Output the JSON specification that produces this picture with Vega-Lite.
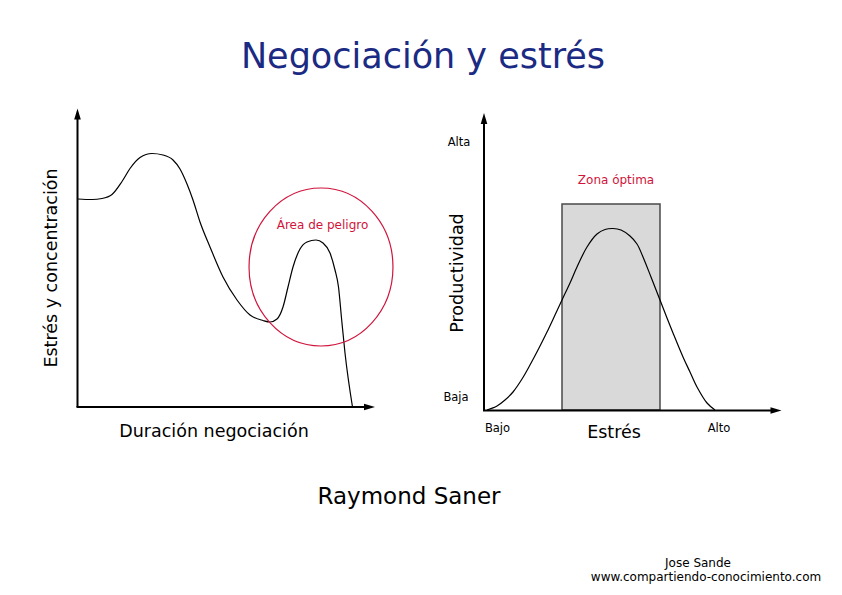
{
  "$schema": "https://vega.github.io/schema/vega-lite/v6.json",
  "description": "Negociación y estrés: stress over the course of a negotiation and the stress/productivity curve (Raymond Saner).",
  "width": 842,
  "height": 595,
  "padding": 0,
  "autosize": {"type": "fit", "contains": "padding"},
  "background": "white",
  "config": {
    "view": {"stroke": null},
    "text": {"font": "DejaVu Sans"}
  },
  "datasets": {
    "zone": [
      {"x": 562, "x2": 660, "y": 204, "y2": 410}
    ],
    "axes": [
      {"panel": "left", "dir": "up", "x": 77.5, "y": 407, "x2": 77.5, "y2": 116},
      {"panel": "left", "dir": "right", "x": 76.5, "y": 407, "x2": 368, "y2": 407},
      {"panel": "right", "dir": "up", "x": 484, "y": 410.5, "x2": 484, "y2": 121},
      {"panel": "right", "dir": "right", "x": 483, "y": 410.5, "x2": 774, "y2": 410.5}
    ],
    "arrows": [
      {"panel": "left", "dir": "up", "x": 77.5, "y": 114},
      {"panel": "left", "dir": "right", "x": 369.5, "y": 407},
      {"panel": "right", "dir": "up", "x": 484, "y": 118.5},
      {"panel": "right", "dir": "right", "x": 776, "y": 410.5}
    ],
    "stress": [
      {"x": 78, "y": 199}, {"x": 92, "y": 199.5}, {"x": 102, "y": 198.5},
      {"x": 112, "y": 194.5}, {"x": 122, "y": 181.5}, {"x": 130, "y": 168.5},
      {"x": 140, "y": 157.5}, {"x": 152, "y": 153.5}, {"x": 163, "y": 155},
      {"x": 173, "y": 160}, {"x": 180, "y": 169}, {"x": 187, "y": 184},
      {"x": 193, "y": 200}, {"x": 200, "y": 222}, {"x": 210, "y": 247},
      {"x": 223, "y": 277}, {"x": 237, "y": 300}, {"x": 250, "y": 315},
      {"x": 263, "y": 320.5}, {"x": 270, "y": 322}, {"x": 277, "y": 319},
      {"x": 283, "y": 307}, {"x": 288, "y": 287}, {"x": 293, "y": 267},
      {"x": 300, "y": 249}, {"x": 307, "y": 242}, {"x": 316, "y": 240},
      {"x": 323, "y": 243}, {"x": 330, "y": 253}, {"x": 335, "y": 270},
      {"x": 338.5, "y": 287}, {"x": 341.5, "y": 318}, {"x": 345, "y": 353},
      {"x": 352.5, "y": 407}
    ],
    "productivity": [
      {"x": 487, "y": 410}, {"x": 497, "y": 406}, {"x": 505, "y": 400},
      {"x": 513, "y": 392}, {"x": 522, "y": 379}, {"x": 530, "y": 365},
      {"x": 539, "y": 348}, {"x": 547, "y": 332}, {"x": 555, "y": 315},
      {"x": 562, "y": 300}, {"x": 570, "y": 283}, {"x": 577, "y": 267},
      {"x": 587, "y": 247}, {"x": 597, "y": 234}, {"x": 605, "y": 229.5},
      {"x": 613, "y": 228.5}, {"x": 621, "y": 230}, {"x": 630, "y": 236},
      {"x": 637, "y": 244}, {"x": 643, "y": 257}, {"x": 651, "y": 277},
      {"x": 660, "y": 300}, {"x": 667, "y": 318}, {"x": 673, "y": 333},
      {"x": 683, "y": 357}, {"x": 690, "y": 372}, {"x": 697, "y": 387},
      {"x": 707, "y": 403}, {"x": 715, "y": 410}
    ],
    "danger": [
      {"x": 321, "y": 267}
    ],
    "title": [
      {"x": 423, "y": 68, "label": "Negociación y estrés"}
    ],
    "axisTitles": [
      {"x": 214, "y": 432, "label": "Duración negociación"},
      {"x": 614, "y": 433, "label": "Estrés"}
    ],
    "rotatedTitles": [
      {"x": 52, "y": 268, "label": "Estrés y concentración"},
      {"x": 458, "y": 273, "label": "Productividad"}
    ],
    "levels": [
      {"x": 459, "y": 143, "label": "Alta"},
      {"x": 456, "y": 398, "label": "Baja"},
      {"x": 497.5, "y": 428.5, "label": "Bajo"},
      {"x": 719, "y": 428.5, "label": "Alto"}
    ],
    "zones": [
      {"x": 322.5, "y": 225, "label": "Área de peligro"},
      {"x": 616, "y": 180, "label": "Zona óptima"}
    ],
    "author": [
      {"x": 409, "y": 497, "label": "Raymond Saner"}
    ],
    "credits": [
      {"x": 698, "y": 563, "label": "Jose Sande"},
      {"x": 706, "y": 577, "label": "www.compartiendo-conocimiento.com"}
    ]
  },
  "encoding": {
    "x": {"field": "x", "type": "quantitative", "scale": {"domain": [0, 842], "nice": false, "zero": false}, "axis": null},
    "y": {"field": "y", "type": "quantitative", "scale": {"domain": [0, 595], "nice": false, "zero": false, "reverse": true}, "axis": null}
  },
  "layer": [
    {
      "data": {"name": "zone"},
      "mark": {"type": "rect", "fill": "#d9d9d9", "stroke": "#4a4a4a", "strokeWidth": 1.5},
      "encoding": {"x2": {"field": "x2"}, "y2": {"field": "y2"}}
    },
    {
      "data": {"name": "axes"},
      "mark": {"type": "rule", "color": "black", "strokeWidth": 2},
      "encoding": {"x2": {"field": "x2"}, "y2": {"field": "y2"}}
    },
    {
      "data": {"name": "arrows"},
      "mark": {"type": "point", "filled": true, "color": "black", "opacity": 1, "size": 121},
      "encoding": {
        "shape": {
          "field": "dir",
          "type": "nominal",
          "scale": {"domain": ["up", "right"], "range": ["M -0.6 1 L 0 -1 L 0.6 1 Z", "M -1 -0.6 L 1 0 L -1 0.6 Z"]},
          "legend": null
        }
      }
    },
    {
      "data": {"name": "stress"},
      "mark": {"type": "line", "color": "black", "strokeWidth": 1.2, "interpolate": "monotone"}
    },
    {
      "data": {"name": "productivity"},
      "mark": {"type": "line", "color": "black", "strokeWidth": 1.2, "interpolate": "catmull-rom"}
    },
    {
      "data": {"name": "danger"},
      "mark": {
        "type": "point",
        "filled": false,
        "color": "#d0143c",
        "opacity": 1,
        "strokeWidth": 1.2,
        "size": 24964,
        "shape": "M 0.911 0 C 0.911 0.5523 0.503 1 0 1 C -0.503 1 -0.911 0.5523 -0.911 0 C -0.911 -0.5523 -0.503 -1 0 -1 C 0.503 -1 0.911 -0.5523 0.911 0 Z"
      }
    },
    {
      "data": {"name": "title"},
      "mark": {"type": "text", "fontSize": 35, "color": "#1b2a83", "baseline": "alphabetic", "align": "center"},
      "encoding": {"text": {"field": "label"}}
    },
    {
      "data": {"name": "axisTitles"},
      "mark": {"type": "text", "fontSize": 17.5, "color": "black", "baseline": "middle", "align": "center"},
      "encoding": {"text": {"field": "label"}}
    },
    {
      "data": {"name": "rotatedTitles"},
      "mark": {"type": "text", "fontSize": 17.5, "color": "black", "baseline": "middle", "align": "center", "angle": 270},
      "encoding": {"text": {"field": "label"}}
    },
    {
      "data": {"name": "levels"},
      "mark": {"type": "text", "fontSize": 11.5, "color": "black", "baseline": "middle", "align": "center"},
      "encoding": {"text": {"field": "label"}}
    },
    {
      "data": {"name": "zones"},
      "mark": {"type": "text", "fontSize": 12, "color": "#d0143c", "baseline": "middle", "align": "center"},
      "encoding": {"text": {"field": "label"}}
    },
    {
      "data": {"name": "author"},
      "mark": {"type": "text", "fontSize": 23, "color": "black", "baseline": "middle", "align": "center"},
      "encoding": {"text": {"field": "label"}}
    },
    {
      "data": {"name": "credits"},
      "mark": {"type": "text", "fontSize": 12, "color": "black", "baseline": "middle", "align": "center"},
      "encoding": {"text": {"field": "label"}}
    }
  ]
}
